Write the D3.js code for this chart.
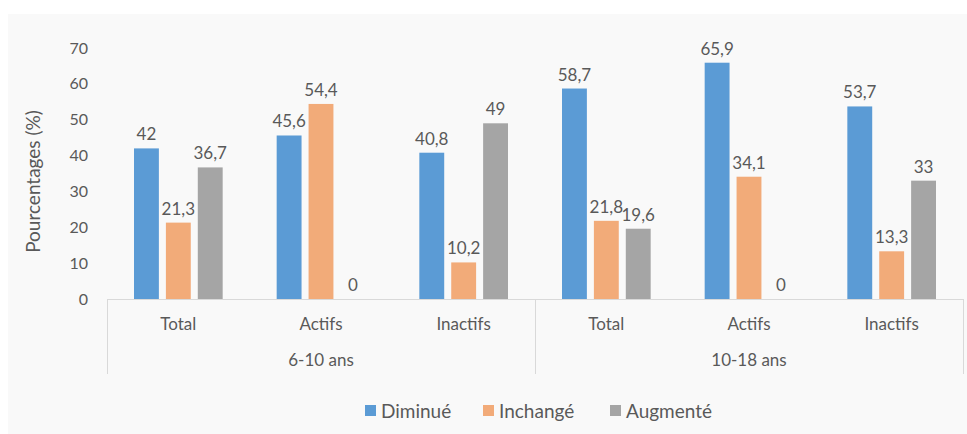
<!DOCTYPE html>
<html>
<head>
<meta charset="utf-8">
<script src="https://cdn.jsdelivr.net/npm/d3@7"></script>
<style>
  body { margin: 0; background: #fff; }
  text { font-family: Lato, "Open Sans", sans-serif; fill: #595959; }
</style>
</head>
<body>
<svg id="chart" width="967" height="434"></svg>
<script>
// data
const groups = ['6-10 ans', '10-18 ans']
const subcats = ['Total', 'Actifs', 'Inactifs']
const series = ['Diminué', 'Inchangé', 'Augmenté']
const diminue = [42, 45.6, 40.8, 58.7, 65.9, 53.7]
const inchange = [21.3, 54.4, 10.2, 21.8, 34.1, 13.3]
const augmente = [36.7, 0, 49, 19.6, 0, 33]
const yTicks = [0, 10, 20, 30, 40, 50, 60, 70]
const colors = ['#5b9bd5', '#f2ab79', '#a5a5a5']

const values = [diminue, inchange, augmente]
const cats = []
groups.forEach((g, gi) => subcats.forEach((s, si) => cats.push({ id: gi * 3 + si, group: g, label: s })))

const svg = d3.select('#chart')
const margin = { top: 48, right: 4, bottom: 135, left: 107 }
const width = 967, height = 434

// chart background
svg.append('rect').attr('x', 8).attr('y', 14).attr('width', width - 8).attr('height', height - 14).attr('fill', '#f9f9f9')

const x0 = d3.scaleBand().domain(cats.map(d => d.id)).range([margin.left, width - margin.right])
const xg = d3.scaleBand().domain(groups).range([margin.left, width - margin.right])
const x1 = d3.scaleBand().domain(series).range([27, x0.bandwidth() - 27]).paddingInner(0.22)
const y = d3.scaleLinear().domain([0, 70]).range([height - margin.bottom, margin.top])

// y axis
svg.append('g')
  .attr('transform', 'translate(' + (margin.left - 19) + ',0)')
  .call(d3.axisLeft(y).tickValues(yTicks).tickSize(0).tickPadding(0))
  .call(g => g.select('.domain').remove())
  .selectAll('text').style('font-size', '16px').style('fill', '#595959')
    .style('font-family', 'Lato, sans-serif')

svg.append('text')
  .attr('transform', 'translate(40,' + (y(35) + 8) + ') rotate(-90)')
  .attr('text-anchor', 'middle')
  .style('font-size', '19px')
  .text('Pourcentages (%)')

// bars
const bars = svg.append('g')
series.forEach((s, si) => {
  const data = values[si].map((v, i) => ({ id: i, v: v }))
  bars.selectAll('rect.s' + si)
    .data(data)
    .join('rect')
      .attr('class', 's' + si)
      .attr('x', d => x0(d.id) + x1(s))
      .attr('y', d => y(d.v))
      .attr('width', x1.bandwidth())
      .attr('height', d => y(0) - y(d.v))
      .attr('fill', colors[si])
  bars.selectAll('text.s' + si)
    .data(data)
    .join('text')
      .attr('class', 's' + si)
      .attr('x', d => x0(d.id) + x1(s) + x1.bandwidth() / 2)
      .attr('y', d => y(d.v) - 8)
      .attr('text-anchor', 'middle')
      .style('font-size', '17px')
      .text(d => String(d.v).replace('.', ','))
})

// multi-level category axis
const axis = svg.append('g')
axis.append('line')
  .attr('x1', margin.left).attr('x2', width - margin.right)
  .attr('y1', y(0) + 0.5).attr('y2', y(0) + 0.5)
  .attr('stroke', '#d9d9d9')
const seps = groups.map(g => xg(g)).concat([width - margin.right])
axis.selectAll('line.sep')
  .data(seps)
  .join('line')
    .attr('class', 'sep')
    .attr('x1', d => d + 0.5).attr('x2', d => d + 0.5)
    .attr('y1', y(0)).attr('y2', y(0) + 75)
    .attr('stroke', '#d9d9d9')
axis.selectAll('text.cat')
  .data(cats)
  .join('text')
    .attr('class', 'cat')
    .attr('x', d => x0(d.id) + x0.bandwidth() / 2)
    .attr('y', y(0) + 31)
    .attr('text-anchor', 'middle')
    .style('font-size', '17px')
    .text(d => d.label)
axis.selectAll('text.grp')
  .data(groups)
  .join('text')
    .attr('class', 'grp')
    .attr('x', d => xg(d) + xg.bandwidth() / 2)
    .attr('y', y(0) + 67)
    .attr('text-anchor', 'middle')
    .style('font-size', '17px')
    .text(d => d)

// legend
const legendX = [365, 483, 610]
const legend = svg.append('g')
series.forEach((s, si) => {
  legend.append('rect')
    .attr('x', legendX[si]).attr('y', 405)
    .attr('width', 11).attr('height', 11)
    .attr('fill', colors[si])
  legend.append('text')
    .attr('x', legendX[si] + 16).attr('y', 418)
    .style('font-size', '19px')
    .text(s)
})
</script>
</body>
</html>
